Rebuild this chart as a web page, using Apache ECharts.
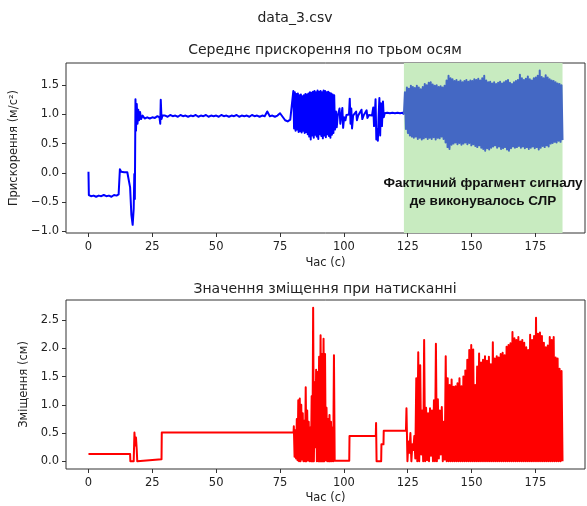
<!DOCTYPE html>
<html>
<head>
<meta charset="utf-8">
<script src="https://cdn.jsdelivr.net/npm/echarts@6/dist/echarts.min.js"></script>
<style>
html, body { margin: 0; padding: 0; background: #fff; }
#chart { width: 587px; height: 506px; }
</style>
</head>
<body>
<div id="chart"></div>
<script>
// ---------------- data ----------------
var timeTicks = [0, 25, 50, 75, 100, 125, 150, 175];
var accTicks = [-1.0, -0.5, 0.0, 0.5, 1.0, 1.5];
var dispTicks = [0.0, 0.5, 1.0, 1.5, 2.0, 2.5];
var timeRange = [-8.8, 194.4];
var accRange = [-1.03, 1.88];
var dispRange = [-0.136, 2.856];
var cprSpan = [123.5, 185.6]; // green zone, s

// acceleration, start of record [s, m/s²]
var accStart = [
	[0, 0.02], [0.15, -0.38], [1, -0.40], [2, -0.39], [3, -0.41], [4, -0.39], [5, -0.40],
	[6, -0.38], [7, -0.40], [8, -0.39], [9, -0.41], [10, -0.38], [11, -0.39], [11.8, -0.37],
	[12.3, 0.06], [12.8, 0.02], [13.4, 0.04], [14, 0.01], [14.6, 0.03], [15.2, 0.01], [15.9, 0.02],
	[16.3, -0.25], [16.8, -0.72], [17.3, -0.89], [17.7, -0.62], [17.95, -0.02], [18.15, -0.45],
	[18.4, 1.26], [18.6, 0.72], [18.9, 1.18], [19.2, 0.84], [19.5, 1.08], [19.8, 0.90], [20.2, 1.04],
	[20.6, 0.92], [21.2, 0.98], [22, 0.93], [23, 0.95], [24, 0.93], [25, 0.95], [26, 0.94], [27, 0.97],
	[27.8, 0.95], [28.1, 0.84], [28.3, 1.25], [28.6, 0.92], [29, 0.98]
];
// flat part, one reading per second from 30 to 79 s
var accFlat = [
	0.98, 0.96, 0.99, 0.97, 0.98, 0.96, 0.99, 0.97, 0.98, 0.96,
	0.98, 0.97, 0.99, 0.96, 0.98, 0.97, 0.99, 0.96, 0.98, 0.97,
	0.98, 0.96, 0.99, 0.97, 0.98, 0.96, 0.98, 0.97, 0.99, 0.96,
	0.98, 0.97, 0.98, 0.96, 0.99, 0.97, 0.98, 0.96, 0.98, 0.97,
	1.05, 0.97, 0.98, 0.96, 0.98, 1.02, 0.96, 0.90, 0.88, 0.91
];
// first burst 80.2–96.5 s
var accBurstPeaks = [1.40, 1.38, 1.35, 1.36, 1.33, 1.34, 1.31, 1.33, 1.35, 1.34, 1.36, 1.38, 1.37, 1.39,
	1.40, 1.38, 1.41, 1.39, 1.40, 1.38, 1.41, 1.40, 1.38, 1.39, 1.37, 1.36, 1.34, 1.33];
var accBurstTroughs = [0.76, 0.72, 0.74, 0.70, 0.71, 0.69, 0.72, 0.68, 0.70, 0.66, 0.62, 0.57, 0.64, 0.60,
	0.65, 0.62, 0.58, 0.66, 0.63, 0.59, 0.64, 0.61, 0.66, 0.63, 0.60, 0.65, 0.68, 0.74];
// between the bursts
var accMid = [
	[96.6, 0.76], [96.9, 1.05], [97.2, 0.78], [97.6, 0.98], [98.0, 0.95], [98.3, 1.10], [98.6, 0.84],
	[99.0, 0.97], [99.4, 1.11], [99.7, 0.77], [100.1, 0.95], [100.6, 0.90], [101.0, 0.99], [101.5, 0.96],
	[102.0, 1.00], [102.3, 1.27], [102.6, 0.84], [102.9, 1.10], [103.2, 0.76], [103.6, 0.98], [104.2, 0.96],
	[104.8, 1.05], [105.1, 0.90], [105.6, 0.98], [106.2, 0.96], [106.9, 1.08], [107.2, 0.92], [107.7, 0.98],
	[108.4, 0.97], [108.9, 1.07], [109.2, 0.94], [109.8, 0.99], [110.4, 0.97], [111.0, 0.98], [111.5, 1.12],
	[111.8, 0.80], [112.1, 1.00], [112.4, 1.26], [112.7, 0.57], [113.0, 0.74], [113.3, 0.55], [113.6, 0.98],
	[113.9, 1.28], [114.2, 0.64], [114.5, 1.19], [114.9, 0.80], [115.3, 1.22], [115.6, 0.95], [116.0, 1.02],
	[116.5, 0.99], [117, 1.03], [117.5, 1.00], [118, 1.02], [118.5, 0.99], [119, 1.03], [119.5, 1.00],
	[120, 1.02], [120.5, 0.99], [121, 1.03], [121.5, 1.00], [122, 1.02], [122.5, 0.99], [123, 1.03],
	[123.5, 1.00]
];
// CPR fragment 123.9–185.6 s, one peak and one trough per compression
var cprAccPeaks = [
	1.38, 1.46, 1.44, 1.49, 1.47, 1.45, 1.49, 1.46, 1.43, 1.47, 1.52, 1.50, 1.54, 1.55, 1.51, 1.49,
	1.50, 1.47, 1.48, 1.46, 1.49, 1.58, 1.66, 1.62, 1.60, 1.57, 1.59, 1.56, 1.58, 1.55, 1.57, 1.59,
	1.56, 1.58, 1.57, 1.60, 1.59, 1.61, 1.58, 1.62, 1.66, 1.58, 1.55, 1.56, 1.53, 1.55, 1.52, 1.54,
	1.56, 1.53, 1.55, 1.57, 1.59, 1.54, 1.52, 1.55, 1.57, 1.59, 1.68, 1.62, 1.59, 1.61, 1.65, 1.60,
	1.58, 1.62, 1.63, 1.66, 1.75, 1.64, 1.62, 1.67, 1.63, 1.60, 1.58, 1.57, 1.55, 1.53, 1.52, 1.50
];
var cprAccTroughs = [
	0.75, 0.68, 0.64, 0.62, 0.60, 0.62, 0.58, 0.60, 0.57, 0.59, 0.61, 0.58, 0.60, 0.58, 0.61, 0.57,
	0.60, 0.59, 0.62, 0.58, 0.52, 0.44, 0.41, 0.48, 0.50, 0.52, 0.49, 0.51, 0.48, 0.50, 0.52, 0.49,
	0.51, 0.47, 0.49, 0.46, 0.44, 0.47, 0.43, 0.41, 0.38, 0.42, 0.40, 0.43, 0.45, 0.47, 0.43, 0.45,
	0.41, 0.42, 0.44, 0.40, 0.38, 0.42, 0.45, 0.43, 0.44, 0.46, 0.43, 0.45, 0.42, 0.44, 0.41, 0.43,
	0.45, 0.42, 0.44, 0.40, 0.43, 0.46, 0.44, 0.47, 0.45, 0.50, 0.51, 0.53, 0.52, 0.55, 0.53, 0.56
];

// displacement [s, cm]
var dispStart = [
	[0, 0.13], [16.3, 0.13], [16.4, 0.0], [17.7, 0.0], [18.0, 0.51], [18.3, 0.28], [18.6, 0.42],
	[18.9, 0.20], [19.1, 0.0], [19.4, 0.0], [19.5, 0.035], [28.6, 0.035], [28.7, 0.51], [80.3, 0.51]
];
var dispBurstPeaks = [0.62, 0.55, 0.75, 1.08, 1.11, 1.00, 0.85, 0.72, 1.31, 0.90, 0.70, 0.60, 1.15, 2.72,
	1.40, 1.62, 1.58, 1.85, 2.23, 1.90, 2.17, 1.90, 0.95, 0.75, 0.82, 0.70, 0.60, 1.88];
var dispBurstTroughs = [0.08, 0.05, 0.02, 0, 0, 0.03, 0, 0, 0, 0.02, 0, 0, 0, 0,
	0.25, 0, 0, 0, 0, 0, 0, 0.02, 0, 0, 0, 0, 0, 0.01];
var dispMid = [
	[96.6, 0.01], [102.1, 0.01], [102.2, 0.45], [112.5, 0.45], [112.6, 0.68], [112.8, 0.0],
	[114.6, 0.0], [114.7, 0.30], [115.5, 0.30], [115.6, 0.54], [124.3, 0.54]
];
var cprDispPeaks = [
	0.94, 0.35, 0.50, 0.30, 0.45, 1.47, 1.93, 1.70, 0.90, 2.15, 0.95, 0.85, 0.94, 0.90, 1.08, 2.08,
	1.10, 0.90, 0.96, 0.70, 1.86, 1.47, 1.35, 1.45, 1.32, 1.33, 1.38, 1.47, 1.33, 1.50, 1.61, 1.80,
	1.97, 2.06, 1.98, 1.35, 1.68, 1.91, 1.75, 1.80, 1.86, 1.78, 1.85, 1.72, 2.11, 1.82, 1.86, 1.84,
	1.90, 1.92, 1.88, 2.03, 2.06, 2.09, 2.29, 2.18, 2.15, 2.20, 2.12, 2.15, 2.10, 2.02, 1.97, 2.24,
	2.15, 2.22, 2.54, 2.26, 2.28, 2.22, 2.10, 2.02, 2.05, 2.20, 2.15, 2.20, 1.84, 1.82, 1.64, 1.60
];
var cprDispTroughs = [
	0.00, 0.15, 0.00, 0.20, 0.05, 0.00, 0.00, 0.12, 0.00, 0.00, 0.02, 0.00, 0.10, 0.00, 0.00, 0.00,
	0.05, 0.12, 0.00, 0.03, 0, 0, 0, 0, 0, 0, 0, 0, 0, 0, 0, 0,
	0, 0, 0, 0, 0, 0, 0, 0, 0, 0, 0, 0, 0, 0, 0, 0,
	0, 0, 0, 0, 0, 0, 0, 0, 0, 0, 0, 0, 0, 0, 0, 0,
	0, 0, 0, 0, 0, 0, 0, 0, 0, 0, 0, 0, 0, 0, 0, 0
];

// ---------------- helpers ----------------
// readings taken at even steps between t0 and t1
function evenly(t0, t1, vals) {
	var pts = [];
	var step = (t1 - t0) / (vals.length - 1);
	for (var i = 0; i < vals.length; i++) pts.push([t0 + i * step, vals[i]]);
	return pts;
}
// alternate peak / trough readings between t0 and t1
function zigzag(t0, t1, peaks, troughs) {
	var pts = [];
	var n = peaks.length;
	var step = (t1 - t0) / (2 * n - 1);
	for (var i = 0; i < n; i++) {
		pts.push([t0 + 2 * i * step, peaks[i]]);
		pts.push([t0 + (2 * i + 1) * step, troughs[i]]);
	}
	return pts;
}

var accBefore = accStart.concat(evenly(30, 79, accFlat), zigzag(80.2, 96.5, accBurstPeaks, accBurstTroughs), accMid);
var accCpr = [accMid[accMid.length - 1]].concat(zigzag(123.9, 185.6, cprAccPeaks, cprAccTroughs));
var dispAll = dispStart.concat(zigzag(80.4, 96.4, dispBurstPeaks, dispBurstTroughs), dispMid,
	zigzag(124.5, 185.6, cprDispPeaks, cprDispTroughs));

// ---------------- chart ----------------
var font = "DejaVu Sans";
var ink = "#222";

function fmt(v) {
	return v.toFixed(1).replace("-", "\u2212");
}

function timeAxis(idx, gap) {
	return {
		type: "value", gridIndex: idx, min: timeRange[0], max: timeRange[1],
		name: "Час (с)", nameLocation: "middle", nameGap: gap,
		nameTextStyle: { color: ink, fontFamily: font, fontSize: 11.5 },
		axisLine: { show: false, onZero: false },
		axisTick: { show: true, length: 4, lineStyle: { color: "#333" }, customValues: timeTicks },
		axisLabel: { customValues: timeTicks, margin: 8, color: ink, fontFamily: font, fontSize: 11.5 },
		splitLine: { show: false }
	};
}

function valueAxis(idx, range, ticks, name, gap) {
	return {
		type: "value", gridIndex: idx, min: range[0], max: range[1],
		name: name, nameLocation: "middle", nameGap: gap,
		nameTextStyle: { color: ink, fontFamily: font, fontSize: 11.5 },
		axisLine: { show: false, onZero: false },
		axisTick: { show: true, length: 4, lineStyle: { color: "#333" }, customValues: ticks },
		axisLabel: { customValues: ticks, margin: 7, formatter: fmt, color: ink, fontFamily: font, fontSize: 11.5 },
		splitLine: { show: false }
	};
}

function text(x, y, str, size) {
	return {
		type: "text", x: x, y: y, silent: true,
		style: { text: str, fill: ink, fontFamily: font, fontSize: size, align: "center", verticalAlign: "middle" }
	};
}

function trace(axis, data, color) {
	return {
		type: "line", xAxisIndex: axis, yAxisIndex: axis, data: data, z: 3,
		showSymbol: false, symbol: "none", silent: true, sampling: null,
		lineStyle: { color: color, width: 2, join: "round" }
	};
}

var chart = echarts.init(document.getElementById("chart"));
chart.setOption({
	animation: false,
	backgroundColor: "#fff",
	grid: [
		{ left: 66, top: 63, width: 519, height: 170, show: true, borderColor: "#333", borderWidth: 1 },
		{ left: 66, top: 300, width: 519, height: 169, show: true, borderColor: "#333", borderWidth: 1 }
	],
	xAxis: [timeAxis(0, 24), timeAxis(1, 23)],
	yAxis: [
		valueAxis(0, accRange, accTicks, "Прискорення (м/с²)", 40),
		valueAxis(1, dispRange, dispTicks, "Зміщення (см)", 34)
	],
	graphic: [
		text(295, 18, "data_3.csv", 14),
		text(325, 50, "Середнє прискорення по трьом осям", 14),
		text(325, 289, "Значення зміщення при натисканні", 14),
		{
			type: "text", x: 483, y: 192, silent: true, z: 100,
			style: {
				text: "Фактичний фрагмент сигналу\nде виконувалось СЛР",
				fill: "#111", fontFamily: "Liberation Sans", fontWeight: "bold", fontSize: 13.5,
				lineHeight: 18, align: "center", verticalAlign: "middle"
			}
		}
	],
	series: [
		{
			// green CPR zone
			type: "line", xAxisIndex: 0, yAxisIndex: 0, data: [], z: 1, silent: true,
			markArea: {
				silent: true,
				itemStyle: { color: "#c8ebc0" },
				data: [[{ xAxis: cprSpan[0] }, { xAxis: cprSpan[1] }]]
			}
		},
		trace(0, accBefore, "#0000ff"),
		trace(0, accCpr, "#4468c4"),
		trace(1, dispAll, "#ff0000")
	]
});
</script>
</body>
</html>
